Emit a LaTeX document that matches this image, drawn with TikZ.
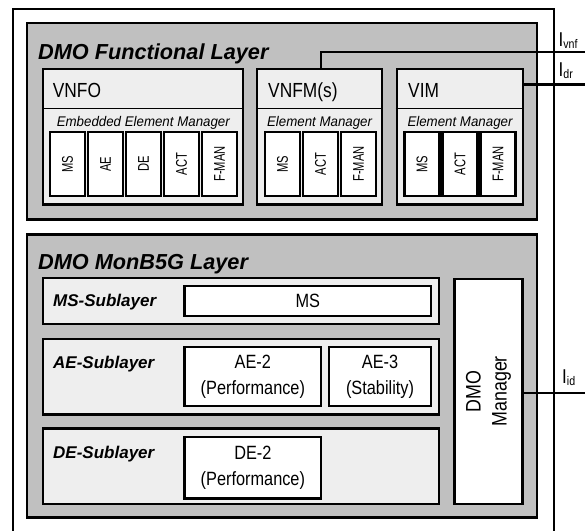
\documentclass[tikz,border=0pt]{standalone}
\usepackage{fontspec}
\setmainfont{Liberation Sans}
\newfontfamily\narrowsans{Liberation Sans}[FakeStretch=0.85]
\newfontfamily\semisans{Liberation Sans}[FakeStretch=0.95]
\newfontfamily\slimsans{Liberation Sans}[FakeStretch=0.72]
\usetikzlibrary{fit}

\definecolor{layergray}{RGB}{192,192,192}
\definecolor{panelgray}{RGB}{238,238,238}

\tikzset{
  frameline/.style={draw, line width=2pt},
  layerbox/.style={draw, line width=2.4pt, fill=layergray, inner sep=0pt},
  panelbox/.style={draw, line width=2.2pt, fill=panelgray, inner sep=0pt},
  whitebox/.style={draw, line width=2.2pt, fill=white, inner sep=0pt},
  divider/.style={draw, line width=1.6pt},
  link/.style={draw, line width=2.2pt},
  layertitle/.style={anchor=base west, inner sep=0pt, font=\fontsize{21.7}{24}\selectfont\bfseries\itshape},
  sublabel/.style={anchor=base west, inner sep=0pt, font=\fontsize{17}{20}\selectfont\bfseries\itshape},
  comptitle/.style={anchor=base west, inner sep=0pt, font=\narrowsans\fontsize{20.4}{22}\selectfont},
  emtitle/.style={anchor=base, inner sep=0pt, font=\semisans\fontsize{14}{16}\selectfont\itshape},
  vtext/.style={rotate=90, inner sep=0pt, font=\slimsans\fontsize{15.5}{17}\selectfont},
  blocktext/.style={inner sep=0pt, align=center, font=\narrowsans\fontsize{19.2}{26}\selectfont},
  ilabel/.style={anchor=base west, inner sep=0pt, font=\narrowsans\fontsize{20}{22}\selectfont},
}

% interface label: I with a lowered subscript
\newcommand{\ifname}[1]{I\raisebox{-2pt}{\fontsize{12.5}{14}\selectfont #1}}

\begin{document}
\begin{tikzpicture}[x=1pt,y=-1pt]
\useasboundingbox (0,0) rectangle (585,530);
\clip (0,0) rectangle (585,530);

% enclosing frame, open at the bottom edge
\draw[frameline] (13,545) -- (13,9.3) -- (553.5,9.3) -- (553.5,545);

% ---------------- DMO Functional Layer ----------------
\node[layerbox, fit={(27,23) (536.7,219.5)}] (funclayer) {};
\node[layertitle] (functitle) at (38,59.3) {DMO Functional Layer};

% component boxes
\node[panelbox, fit={(43.3,69) (243.3,204.5)}] (vnfo) {};
\node[panelbox, fit={(257,69) (382.2,204.5)}] (vnfm) {};
\node[panelbox, fit={(396.8,69) (523.2,204.5)}] (vim) {};
\foreach \b in {vnfo,vnfm,vim}
  \draw[divider] (\b.west |- 0,108.3) -- (\b.east |- 0,108.3);

\node[comptitle] (vnfot) at (52.7,97.3) {VNFO};
\node[comptitle] (vnfmt) at (268,97.3) {VNFM(s)};
\node[comptitle] (vimt) at (408,97.3) {VIM};

\node[emtitle] (vnfoem) at (vnfo.center |- 0,126) {Embedded Element Manager};
\node[emtitle] (vnfmem) at (vnfm.center |- 0,126) {Element Manager};
\node[emtitle] (vimem) at (vim.center |- 0,126) {Element Manager};

% function blocks inside each element manager
\foreach \n/\x/\t in {vnfoms/50/MS, vnfoae/88/AE, vnfode/126/DE, vnfoact/164/ACT, vnfofman/202/F-MAN,
                      vnfmms/265/MS, vnfmact/303/ACT, vnfmfman/341/F-MAN,
                      vimms/404.5/MS, vimact/442.5/ACT, vimfman/480.5/F-MAN} {
  \node[whitebox, fit={(\x,132.3) (\x+35,195.8)}] (\n) {};
  \node[vtext] (\n-t) at (\n.center) {\t};
}

% ---------------- DMO MonB5G Layer ----------------
\node[layerbox, fit={(27,234.3) (537.2,517.5)}] (monlayer) {};
\node[layertitle] (montitle) at (38,269.3) {DMO MonB5G Layer};

\node[panelbox, fit={(42.7,277.8) (438.8,323.8)}] (mssub) {};
\node[panelbox, fit={(42.7,338.8) (438.8,414.5)}] (aesub) {};
\node[panelbox, fit={(42.7,428.5) (438.8,503.8)}] (desub) {};

\node[sublabel] (mssubt) at (53,306.7) {MS-Sublayer};
\node[sublabel] (aesubt) at (53,368.3) {AE-Sublayer};
\node[sublabel] (desubt) at (53,458.3) {DE-Sublayer};

\node[whitebox, fit={(184.5,286.2) (431.2,316.2)}] (msblk) {};
\node[blocktext] (msblkt) at (msblk.center) {MS};

\node[whitebox, fit={(184.5,346.8) (321.2,406.2)}] (ae2) {};
\node[blocktext] (ae2t) at (ae2.center) {AE-2\\(Performance)};
\node[whitebox, fit={(328.8,346.8) (431.2,406.2)}] (ae3) {};
\node[blocktext] (ae3t) at (ae3.center) {AE-3\\(Stability)};

\node[whitebox, fit={(184.5,436.8) (321.2,498.5)}] (de2) {};
\node[blocktext] (de2t) at (de2.center) {DE-2\\(Performance)};

\node[whitebox, fit={(454.5,278.8) (522.5,503.8)}] (mgr) {};
\node[blocktext, rotate=90, font=\narrowsans\fontsize{21}{26}\selectfont] (mgrt) at (mgr.center) {DMO\\Manager};

% ---------------- external interfaces ----------------
\coordinate (ivnf) at (590,52);
\coordinate (idr) at (590,84.5);
\coordinate (iid) at (590,393);

\draw[link] (vnfm.north -| 321,0) |- (ivnf);
\draw[link] (idr -| vim.east) -- (idr);
\draw[link] (iid -| mgr.east) -- (iid);

\node[ilabel] (ivnft) at (558.5,46.5) {\ifname{vnf}};
\node[ilabel] (idrt) at (558.5,76) {\ifname{dr}};
\node[ilabel] (iidt) at (562,383) {\ifname{id}};
\end{tikzpicture}
\end{document}
